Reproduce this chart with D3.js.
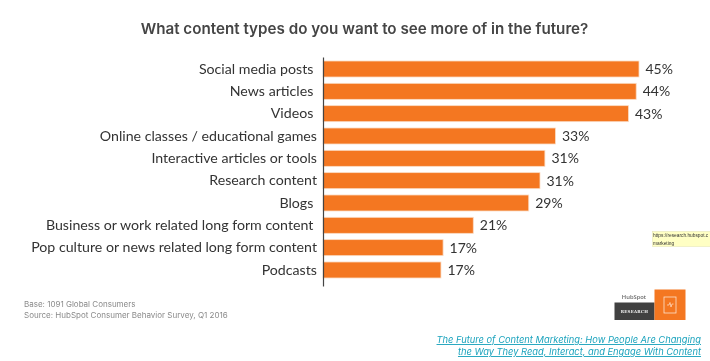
<!DOCTYPE html>
<html>
<head>
<meta charset="utf-8">
<script src="https://cdn.jsdelivr.net/npm/d3@7"></script>
<style>
  html, body { margin: 0; padding: 0; background: #fff; }
  svg { display: block; filter: blur(0.35px); }
  .tick text { white-space: pre; }
</style>
</head>
<body>
<div id="app"></div>
<script>
// trailing spaces are in the original labels, they make the right edge uneven
const categories = [
  'Social media posts ',
  'News articles ',
  'Videos ',
  'Online classes / educational games',
  'Interactive articles or tools',
  'Research content',
  'Blogs ',
  'Business or work related long form content ',
  'Pop culture or news related long form content',
  'Podcasts'
];
// bar lengths, they differ a bit from the printed labels
const values = [45, 44.6, 43.5, 33.1, 31.6, 30.9, 29.3, 21.4, 17.1, 16.8];
const valueLabels = ['45%', '44%', '43%', '33%', '31%', '31%', '29%', '21%', '17%', '17%'];
const footnotes = ['Base: 1091 Global Consumers', 'Source: HubSpot Consumer Behavior Survey, Q1 2016'];
const linkLines = ['The Future of Content Marketing: How People Are Changing', 'the Way They Read, Interact, and Engage With Content'];
const tooltipLines = ['https://research.hubspot.c', 'marketing'];

const svgConf = { width: 710, height: 361 };
const orange = '#f47721';

const svg = d3.select('#app').append('svg')
  .attr('width', svgConf.width)
  .attr('height', svgConf.height)
  .attr('viewBox', [0, 0, svgConf.width, svgConf.height]);

svg.append('text')
  .attr('x', 364.5)
  .attr('y', 34)
  .attr('text-anchor', 'middle')
  .attr('font-family', 'Inter')
  .attr('font-weight', 600)
  .attr('font-size', 15.2)
  .attr('fill', '#454545')
  .text('What content types do you want to see more of in the future?');

const x = d3.scaleLinear().domain([0, 45]).range([323, 639]);

const y = d3.scaleBand()
  .domain(d3.range(categories.length))
  .range([57, 286])
  .paddingInner(0.283)
  .paddingOuter(0.269)
  .align(0.333);

svg.selectAll('rect.bar')
  .data(values)
  .enter()
  .append('rect')
  .attr('class', 'bar')
  .attr('x', x(0))
  .attr('y', (d, i) => y(i))
  .attr('width', d => x(d) - x(0))
  .attr('height', y.bandwidth())
  .attr('fill', orange)
  .attr('stroke', '#fbdcc4')
  .attr('stroke-width', 0.8);

const yAxis = svg.append('g')
  .attr('transform', `translate(${x(0)}, 0)`)
  .call(d3.axisLeft(y).tickSize(0).tickPadding(6).tickFormat(i => categories[i]));

yAxis.select('.domain').attr('stroke', '#444').attr('stroke-width', 1.2);
yAxis.selectAll('text')
  .attr('font-family', 'Lato')
  .attr('font-size', 14.2)
  .attr('fill', '#333');

svg.selectAll('text.value')
  .data(values)
  .enter()
  .append('text')
  .attr('class', 'value')
  .attr('x', d => x(d) + 6.5)
  .attr('y', (d, i) => y(i) + y.bandwidth() / 2)
  .attr('dy', '0.35em')
  .attr('font-family', 'Lato')
  .attr('font-size', 14)
  .attr('fill', '#333')
  .text((d, i) => valueLabels[i]);

svg.selectAll('text.foot')
  .data(footnotes)
  .enter()
  .append('text')
  .attr('class', 'foot')
  .attr('x', 24)
  .attr('y', (d, i) => 307 + i * 11)
  .attr('font-family', 'Inter')
  .attr('font-size', 8)
  .attr('fill', '#8a8a8a')
  .text(d => d);

svg.selectAll('text.link')
  .data(linkLines)
  .enter()
  .append('text')
  .attr('class', 'link')
  .attr('x', 701)
  .attr('y', (d, i) => 343 + i * 12)
  .attr('text-anchor', 'end')
  .attr('font-family', 'Inter')
  .attr('font-style', 'italic')
  .attr('font-size', 9.3)
  .attr('text-decoration', 'underline')
  .attr('fill', '#1ba3bd')
  .text(d => d);

// little yellow tooltip, runs off the right edge
const tooltip = svg.append('g');
tooltip.append('rect')
  .attr('x', 652.5).attr('y', 231.5).attr('width', 60).attr('height', 15)
  .attr('fill', '#ffffc4').attr('stroke', '#e8e8b8').attr('stroke-width', 0.6);
tooltip.selectAll('text')
  .data(tooltipLines)
  .enter()
  .append('text')
  .attr('x', 653)
  .attr('y', (d, i) => 237 + i * 7.5)
  .attr('font-family', '"Liberation Sans"')
  .attr('font-size', 4.8)
  .attr('fill', '#333')
  .text(d => d);

// HubSpot research badge
const badge = svg.append('g');
badge.append('text')
  .attr('x', 634).attr('y', 298.5)
  .attr('text-anchor', 'middle')
  .attr('font-family', '"Open Sans"')
  .attr('font-weight', 600)
  .attr('font-size', 5.8)
  .attr('fill', '#666')
  .text('HubSpot');
badge.append('rect')
  .attr('x', 614.5).attr('y', 302.5).attr('width', 40).attr('height', 17.5)
  .attr('fill', '#414141');
badge.append('text')
  .attr('x', 634.5).attr('y', 313)
  .attr('text-anchor', 'middle')
  .attr('font-family', '"DejaVu Serif"')
  .attr('font-weight', 700)
  .attr('font-size', 4)
  .attr('letter-spacing', 0.2)
  .attr('fill', '#eee')
  .text('RESEARCH');
badge.append('rect')
  .attr('x', 654.5).attr('y', 289.5).attr('width', 31).attr('height', 30.5)
  .attr('fill', orange);
badge.append('rect')
  .attr('x', 664).attr('y', 297).attr('width', 12).attr('height', 16)
  .attr('fill', 'none').attr('stroke', '#fde3cf').attr('stroke-width', 0.8);
badge.append('path')
  .attr('d', d3.line()([[667, 305], [669, 305], [670, 302.5], [671, 307], [672, 304], [673.5, 304]]))
  .attr('fill', 'none').attr('stroke', '#fde3cf').attr('stroke-width', 0.7);
</script>
</body>
</html>
